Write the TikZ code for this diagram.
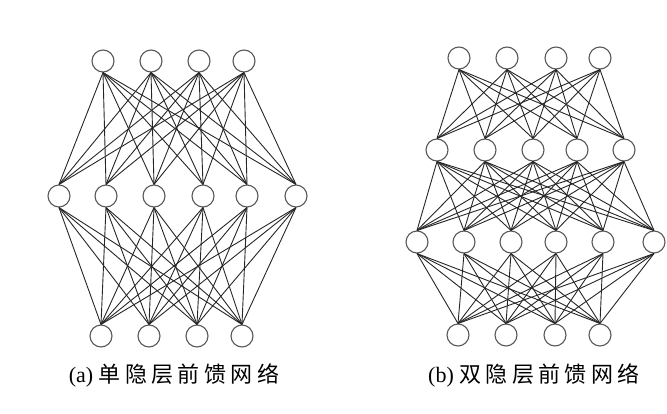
\documentclass[tikz,border=0pt]{standalone}
\usepackage{fontspec}
\setmainfont{Liberation Serif}
\newfontfamily\cjk[LetterSpace=20]{Noto Sans CJK SC}
\begin{document}
\begin{tikzpicture}[x=1pt,y=-1pt,
  neuron/.style={circle,draw=black!65,line width=1.1pt,minimum size=22pt,inner sep=0pt,fill=white},
  edge/.style={draw=black!85,line width=0.9pt},
  caption/.style={inner sep=0pt,font=\fontsize{22}{24}\selectfont}]
\useasboundingbox (0,0) rectangle (667,413);
% left network
\foreach \x [count=\i] in {103,151,199,244} \node[neuron] (at\i) at (\x,61) {};
\foreach \x [count=\i] in {59,106,154,203,247,296} \node[neuron] (am\i) at (\x,196) {};
\foreach \x [count=\i] in {101,149,197,242} \node[neuron] (ab\i) at (\x,336) {};
% right network
\foreach \x [count=\i] in {459,507,556,600} \node[neuron] (bt\i) at (\x,58) {};
\foreach \x [count=\i] in {437,485,533,577,624} \node[neuron] (bh\i) at (\x,150) {};
\foreach \x [count=\i] in {417,464,511,556,603,654} \node[neuron] (bg\i) at (\x,242) {};
\foreach \x [count=\i] in {458,506,555,600} \node[neuron] (bb\i) at (\x,335) {};
% edges
\foreach \i in {1,...,4}{\foreach \j in {1,...,6}{
  \path[edge] (at\i.south) -- (am\j.north);
  \path[edge] (am\j.south) -- (ab\i.north);
  \path[edge] (bg\j.south) -- (bb\i.north);
}}
\foreach \i in {1,...,4}{\foreach \j in {1,...,5}{
  \path[edge] (bt\i.south) -- (bh\j.north);
}}
\foreach \i in {1,...,5}{\foreach \j in {1,...,6}{
  \path[edge] (bh\i.south) -- (bg\j.north);
}}
\node[caption] (capa) at (174,375) {(a) {\cjk 单隐层前馈网络}};
\node[caption] (capb) at (534,375) {(b) {\cjk 双隐层前馈网络}};
\end{tikzpicture}
\end{document}
